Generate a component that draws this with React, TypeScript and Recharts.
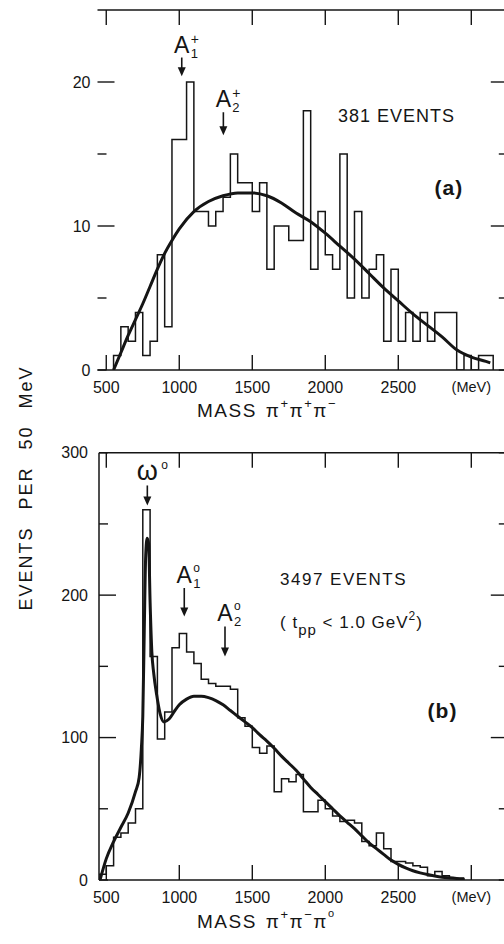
import { LineChart, Line, XAxis, YAxis, ReferenceLine, ReferenceDot } from "recharts";

const INK = "#151515";
const FONT = "'Liberation Sans', Arial, sans-serif";
const BIN = 50; // MeV per bin

// (a) pi+ pi+ pi- , 381 events
const binsA = [550, 600, 650, 700, 750, 800, 850, 900, 950, 1000, 1050, 1100, 1150, 1200, 1250, 1300, 1350, 1400, 1450, 1500, 1550, 1600, 1650, 1700, 1750, 1800, 1850, 1900, 1950, 2000, 2050, 2100, 2150, 2200, 2250, 2300, 2350, 2400, 2450, 2500, 2550, 2600, 2650, 2700, 2750, 2800, 2850, 2900, 2950, 3000, 3050, 3100];
const countsA = [1, 3, 2, 4, 1, 2, 8, 3, 16, 16, 20, 11, 11, 10, 11, 12, 15, 13, 13, 11, 13, 7, 10, 10, 9, 9, 18, 7, 11, 8, 7, 15, 5, 11, 5, 7, 8, 2, 7, 2, 4, 2, 4, 2, 4, 4, 4, 0, 1, 0, 1, 1];
const fitMassA = [550, 600, 650, 700, 750, 800, 850, 900, 950, 1000, 1100, 1200, 1300, 1400, 1500, 1600, 1700, 1800, 1900, 2000, 2100, 2200, 2300, 2400, 2500, 2600, 2700, 2800, 2900, 3000, 3100, 3130];
const fitA = [0, 1.2, 2.4, 3.5, 4.6, 5.8, 7.0, 8.1, 9.0, 9.8, 11.0, 11.7, 12.1, 12.3, 12.3, 12.1, 11.6, 10.9, 10.3, 9.5, 8.6, 7.7, 6.7, 5.7, 4.8, 3.9, 3.1, 2.3, 1.4, 0.9, 0.6, 0.5];

// (b) pi+ pi- pi0 , 3497 events
const binsB = [450, 500, 550, 600, 650, 700, 750, 800, 850, 900, 950, 1000, 1050, 1100, 1150, 1200, 1250, 1300, 1350, 1400, 1450, 1500, 1550, 1600, 1650, 1700, 1750, 1800, 1850, 1900, 1950, 2000, 2050, 2100, 2150, 2200, 2250, 2300, 2350, 2400, 2450, 2500, 2550, 2600, 2650, 2700, 2750, 2800, 2850, 2900];
const countsB = [4, 10, 30, 33, 40, 50, 260, 157, 99, 118, 163, 173, 160, 152, 141, 138, 136, 136, 134, 114, 108, 93, 89, 94, 62, 71, 69, 74, 48, 48, 56, 50, 45, 41, 42, 40, 27, 24, 33, 22, 13, 13, 12, 10, 9, 3, 6, 3, 1, 1];
const fitMassB = [457, 500, 550, 600, 650, 700, 725, 740, 750, 760, 770, 780, 790, 800, 812, 825, 845, 868, 895, 930, 970, 1000, 1050, 1100, 1150, 1200, 1250, 1300, 1350, 1400, 1450, 1500, 1550, 1600, 1650, 1700, 1750, 1800, 1850, 1900, 1950, 2000, 2050, 2100, 2150, 2200, 2250, 2300, 2350, 2400, 2450, 2500, 2550, 2600, 2650, 2700, 2750, 2800, 2850, 2900, 2950];
const fitB = [0, 15, 27, 37, 47, 62, 72, 92, 115, 175, 228, 240, 236, 195, 160, 145, 130, 117, 111, 113, 119, 123, 127, 129, 129, 128, 126, 123, 119, 115, 111, 107, 102, 97.5, 92.5, 87, 82, 77, 71, 65, 60, 55, 50, 45, 40.5, 36, 31, 26, 22, 18, 14, 11, 8.5, 6.5, 5, 3.8, 2.8, 2, 1.5, 1.1, 0.8];

// axes
const massTicks = [500, 1000, 1500, 2000, 2500, 3000];
const massTickLabels = ["500", "1000", "1500", "2000", "2500", "(MeV)"];
const ticksA = [0, 5, 10, 15, 20];
const labelledA = [0, 10, 20];
const ticksB = [0, 50, 100, 150, 200, 250, 300];
const labelledB = [0, 100, 200, 300];

// resonance markers: arrow from tail down to tip (event counts)
const peaksA = [
  { m: 1017, tip: 20.4, tail: 21.7, name: "A", sup: "+", sub: "1" },
  { m: 1302, tip: 16.3, tail: 17.9, name: "A", sup: "+", sub: "2" },
];
const peaksB = [
  { m: 781, tip: 263, tail: 277, name: "ω", sup: "o", sub: "" },
  { m: 1034, tip: 185, tail: 205, name: "A", sup: "o", sub: "1" },
  { m: 1313, tip: 157, tail: 178, name: "A", sup: "o", sub: "2" },
];

function histogram(bins: number[], counts: number[]) {
  const pts = bins.map((m, i) => ({ m, n: counts[i] }));
  return [{ m: bins[0], n: 0 }, ...pts, { m: bins[bins.length - 1] + BIN, n: 0 }];
}

function fitLine(ms: number[], vs: number[]) {
  return ms.map((m, i) => ({ m, n: vs[i] }));
}

const histA = histogram(binsA, countsA);
const histB = histogram(binsB, countsB);
const curveA = fitLine(fitMassA, fitA);
const curveB = fitLine(fitMassB, fitB);

const makeYTick = (plotW: number, labelled: number[], major: number[], gap: number) => (props: any) => {
  const { x, y, payload } = props;
  const v = payload.value;
  const len = major.includes(v) ? 17 : 9;
  return (
    <g>
      <line x1={x} y1={y} x2={x + len} y2={y} stroke={INK} strokeWidth={1.4} />
      <line x1={x + plotW} y1={y} x2={x + plotW - len} y2={y} stroke={INK} strokeWidth={1.4} />
      {labelled.includes(v) && (
        <text x={x - gap} y={y} textAnchor="end" dominantBaseline="central" fontSize={16} fontFamily={FONT} fill={INK}>
          {v}
        </text>
      )}
    </g>
  );
};

const makeXTick = (plotH: number) => (props: any) => {
  const { x, y, payload } = props;
  const label = massTickLabels[massTicks.indexOf(payload.value)];
  return (
    <g>
      <line x1={x} y1={y} x2={x} y2={y - 15} stroke={INK} strokeWidth={1.4} />
      <line x1={x} y1={y - plotH} x2={x} y2={y - plotH + 15} stroke={INK} strokeWidth={1.4} />
      <text x={x} y={y + 17} textAnchor="middle" dominantBaseline="central" fontSize={label === "(MeV)" ? 14.5 : 16} fontFamily={FONT} fill={INK}>
        {label}
      </text>
    </g>
  );
};

const peakShape = (p: { name: string; sup: string; sub: string }) => (props: any) => {
  const { x1, y1, x2, y2 } = props;
  const base = y1 - 5;
  const big = p.name === "ω" ? 27 : 23;
  const off = p.name === "ω" ? 14 : 9;
  return (
    <g>
      <line x1={x1} y1={y1} x2={x2} y2={y2 - 6} stroke={INK} strokeWidth={1.6} />
      <path d={`M${x2 - 4},${y2 - 9} L${x2 + 4},${y2 - 9} L${x2},${y2} Z`} fill={INK} />
      <text x={x1} y={base} textAnchor="middle" fontSize={big} fontFamily={FONT} fill={INK}>{p.name}</text>
      {p.sup === "+" ? (
        <text x={x1 + off} y={base - 9} fontSize={14} fontFamily={FONT} fill={INK}>+</text>
      ) : (
        <text x={x1 + off} y={base - 11} fontSize={12} fontFamily={FONT} fill={INK}>o</text>
      )}
      {p.sub && (
        <text x={x1 + off} y={base + 5} fontSize={13} fontFamily={FONT} fill={INK}>{p.sub}</text>
      )}
    </g>
  );
};

const textShape = (content: any, anchor: string, size: number, weight = 400, spacing = 1) => (props: any) => (
  <text x={props.cx} y={props.cy} textAnchor={anchor} fontSize={size} fontWeight={weight} letterSpacing={spacing} fontFamily={FONT} fill={INK}>
    {content}
  </text>
);

const axisLine = { stroke: INK, strokeWidth: 1.5 };

export default function App() {
  return (
    <div style={{ position: "fixed", left: 0, top: 0, width: 504, height: 944, overflow: "hidden", background: "#fff" }}>
      <div style={{ position: "absolute", left: 0, top: 0 }}>
        <LineChart width={520} height={430} margin={{ top: 10, right: 12.2, bottom: 0, left: 0 }}>
          <XAxis type="number" dataKey="m" domain={[440, 3250]} ticks={massTicks} interval={0} height={60} tickSize={0} tickMargin={0} tick={makeXTick(360)} axisLine={axisLine} allowDataOverflow />
          <YAxis type="number" domain={[0, 25]} ticks={ticksA} interval={0} width={97.5} tickSize={0} tickMargin={0} tick={makeYTick(410.3, labelledA, [10, 20], 7)} axisLine={false} allowDataOverflow />
          <ReferenceLine y={25} stroke={INK} strokeWidth={1.5} ifOverflow="visible" />
          <ReferenceLine x={3250} stroke={INK} strokeWidth={1.5} ifOverflow="visible" />
          <Line data={histA} dataKey="n" type="stepAfter" stroke={INK} strokeWidth={1.5} dot={false} activeDot={false} isAnimationActive={false} />
          <Line data={curveA} dataKey="n" type="monotone" stroke={INK} strokeWidth={3} dot={false} activeDot={false} isAnimationActive={false} />
          {peaksA.map((p) => (
            <ReferenceLine key={p.sub} segment={[{ x: p.m, y: p.tail }, { x: p.m, y: p.tip }]} shape={peakShape(p)} ifOverflow="visible" />
          ))}
          <ReferenceDot x={2087} y={17.2} shape={textShape("381 EVENTS", "start", 18, 400, 1)} ifOverflow="visible" />
          <ReferenceDot x={2847} y={12.15} shape={textShape("(a)", "middle", 21, 700, 1)} ifOverflow="visible" />
        </LineChart>
      </div>

      <div style={{ position: "absolute", left: 0, top: 440 }}>
        <LineChart width={520} height={504} margin={{ top: 12.7, right: 12.2, bottom: 0, left: 0 }}>
          <XAxis type="number" dataKey="m" domain={[450, 3250]} ticks={massTicks} interval={0} height={64} tickSize={0} tickMargin={0} tick={makeXTick(427.3)} axisLine={axisLine} allowDataOverflow />
          <YAxis type="number" domain={[0, 300]} ticks={ticksB} interval={0} width={99} tickSize={0} tickMargin={0} tick={makeYTick(408.8, labelledB, [100, 200], 11)} axisLine={axisLine} allowDataOverflow />
          <ReferenceLine y={300} stroke={INK} strokeWidth={1.5} ifOverflow="visible" />
          <ReferenceLine x={3250} stroke={INK} strokeWidth={1.5} ifOverflow="visible" />
          <Line data={histB} dataKey="n" type="stepAfter" stroke={INK} strokeWidth={1.5} dot={false} activeDot={false} isAnimationActive={false} />
          <Line data={curveB} dataKey="n" type="monotone" stroke={INK} strokeWidth={3} dot={false} activeDot={false} isAnimationActive={false} />
          {peaksB.map((p) => (
            <ReferenceLine key={p.name + p.sub} segment={[{ x: p.m, y: p.tail }, { x: p.m, y: p.tip }]} shape={peakShape(p)} ifOverflow="visible" />
          ))}
          <ReferenceDot x={1690} y={207} shape={textShape("3497 EVENTS", "start", 17, 400, 1.5)} ifOverflow="visible" />
          <ReferenceDot
            x={1690}
            y={177}
            ifOverflow="visible"
            shape={textShape(
              <>
                ( t<tspan dy={7} fontSize={15}>pp</tspan>
                <tspan dy={-7}> &lt; 1.0 GeV</tspan>
                <tspan dy={-8} fontSize={12}>2</tspan>
                <tspan dy={8}>)</tspan>
              </>,
              "start",
              17,
              400,
              1
            )}
          />
          <ReferenceDot x={2803} y={113.5} shape={textShape("(b)", "middle", 21, 700, 1)} ifOverflow="visible" />
        </LineChart>
      </div>

      <svg width={504} height={944} style={{ position: "absolute", left: 0, top: 0, pointerEvents: "none" }}>
        <text x={26} y={488} transform="rotate(-90 26 488)" textAnchor="middle" dominantBaseline="central" fontSize={18} letterSpacing={2} wordSpacing={10} fontFamily={FONT} fill={INK}>
          EVENTS PER 50 MeV
        </text>
        <text x={197} y={417} fontSize={19} letterSpacing={1.5} fontFamily={FONT} fill={INK}>
          MASS
          <tspan dx={9}>π</tspan>
          <tspan dy={-9} fontSize={13}>+</tspan>
          <tspan dy={9}>π</tspan>
          <tspan dy={-9} fontSize={13}>+</tspan>
          <tspan dy={9}>π</tspan>
          <tspan dy={-9} fontSize={13}>−</tspan>
        </text>
        <text x={197} y={928} fontSize={19} letterSpacing={1.5} fontFamily={FONT} fill={INK}>
          MASS
          <tspan dx={9}>π</tspan>
          <tspan dy={-9} fontSize={13}>+</tspan>
          <tspan dy={9}>π</tspan>
          <tspan dy={-9} fontSize={13}>−</tspan>
          <tspan dy={9}>π</tspan>
          <tspan dy={-11} fontSize={11}>o</tspan>
        </text>
      </svg>
    </div>
  );
}
